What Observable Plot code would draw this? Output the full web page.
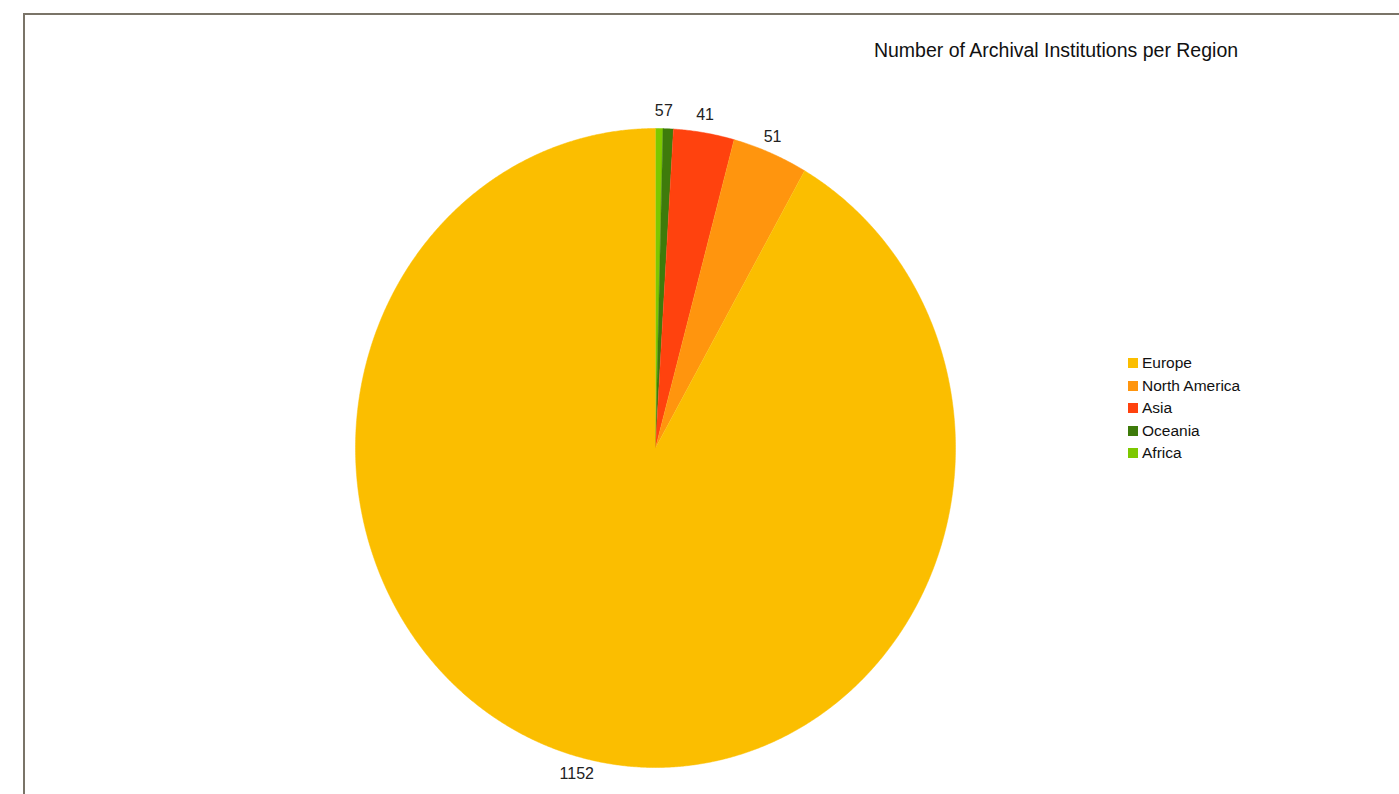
<!DOCTYPE html>
<html>
<head>
<meta charset="utf-8">
<script src="https://cdn.jsdelivr.net/npm/d3@7"></script>
<script src="https://cdn.jsdelivr.net/npm/@observablehq/plot@0.6"></script>
<style>
  html, body { margin: 0; padding: 0; background: #fff; }
  #wrap { position: relative; width: 1399px; height: 794px; overflow: hidden; font-family: "Liberation Sans", Arial, sans-serif; }
  #frame { position: absolute; left: 23px; top: 13px; width: 1400px; height: 800px; border-top: 2px solid #7a7468; border-left: 2px solid #7a7468; }
  #title { position: absolute; left: 0; width: 2112px; top: 39px; text-align: center; font-size: 19.5px; color: #111; white-space: nowrap; }
  #legend { position: absolute; left: 1128px; top: 352px; font-size: 15.5px; color: #111; }
  #legend .row { height: 22.5px; line-height: 20px; display: flex; align-items: center; white-space: nowrap; }
  #legend .sw { width: 10px; height: 10px; margin-right: 4px; }
  #chart { position: absolute; left: 0; top: 0; }
</style>
</head>
<body>
<div id="wrap">
  <div id="frame"></div>
  <div id="chart"></div>
  <div id="title">Number of Archival Institutions per Region</div>
  <div id="legend"></div>
</div>
<script>
// Data (legend order)
const regions = ["Europe", "North America", "Asia", "Oceania", "Africa"];
const counts  = [1152, 51, 41, 7, 5];
const colors  = ["#FBBE00", "#FF950E", "#FF420E", "#3E7B0B", "#7DC800"];

// Slices drawn clockwise from 12 o'clock in reverse legend order
const total = d3.sum(counts);
const order = regions.map((r, i) => i).reverse();
let acc = 0;
const slices = order.map(i => {
  const a0 = acc / total * 2 * Math.PI;
  acc += counts[i];
  const a1 = acc / total * 2 * Math.PI;
  return {region: regions[i], value: counts[i], a0, a1};
});

// polygon points for each slice (center + arc)
const pts = [];
for (const s of slices) {
  pts.push({region: s.region, x: 0, y: 0});
  const n = Math.max(2, Math.ceil((s.a1 - s.a0) / 0.005));
  for (let k = 0; k <= n; k++) {
    const a = s.a0 + (s.a1 - s.a0) * k / n;
    pts.push({region: s.region, x: Math.sin(a), y: -Math.cos(a)});
  }
}
const labels = slices.map(s => {
  const m = (s.a0 + s.a1) / 2;
  return {region: s.region, text: String(s.value), x: Math.sin(m) * 1.02, y: -Math.cos(m) * 1.055};
});

const chart = Plot.plot({
  width: 1399,
  height: 794,
  margin: 0,
  x: {domain: [-1, 1], range: [355, 955], axis: null},
  y: {domain: [-1, 1], range: [128, 767], axis: null},
  color: {domain: regions, range: colors},
  marks: [
    Plot.line(pts, {x: "x", y: "y", z: "region", fill: "region", stroke: "region", strokeWidth: 0.5, curve: "linear"}),
    Plot.text(labels, {x: "x", y: "y", text: "text", fill: "#222", fontSize: 16, fontFamily: "Liberation Sans, Arial, sans-serif", textAnchor: "middle"})
  ]
});
chart.style.background = "transparent";
document.getElementById("chart").appendChild(chart);

const leg = document.getElementById("legend");
regions.forEach((r, i) => {
  const row = document.createElement("div");
  row.className = "row";
  const sw = document.createElement("span");
  sw.className = "sw";
  sw.style.background = colors[i];
  const t = document.createElement("span");
  t.textContent = r;
  row.appendChild(sw);
  row.appendChild(t);
  leg.appendChild(row);
});
</script>
</body>
</html>
